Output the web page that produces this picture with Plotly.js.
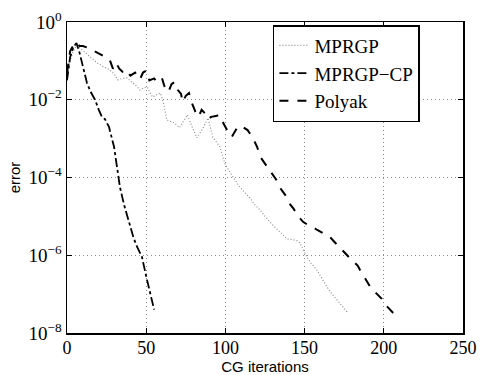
<!DOCTYPE html>
<html>
<head>
<meta charset="utf-8">
<script src="https://cdn.plot.ly/plotly-3.0.1.min.js"></script>
<style>html,body{margin:0;padding:0;background:#fff;}#chart{width:480px;height:375px;}</style>
</head>
<body>
<div id="chart"></div>
<script>
// MPRGP (dotted grey)
var mprgpX = [0,2,3.5,6,9,12,15,19,23,27,30,32,35,38,41,44,46,48,50.5,52,54,56,59,61,63,65,68,71,73,76,78,80,82,84,86,89,91,92,96.5,99.7,102.8,106,109,112,115.5,118,121.8,125,128,131,134.4,137,139,142.6,145,147,149,151.4,154,157.7,161,164,167,170.3,174,177.3];
var mprgpY = [0.0398,0.1,0.158,0.251,0.2,0.158,0.126,0.0891,0.0708,0.0589,0.0447,0.0324,0.0355,0.0363,0.0282,0.0224,0.0178,0.02,0.0214,0.0158,0.0117,0.0132,0.0148,0.0079,3.02e-3,2.82e-3,2.51e-3,1.91e-3,2.51e-3,4.07e-3,2.51e-3,1.58e-3,1.05e-3,1.41e-3,1.91e-3,3.39e-3,1.58e-3,1.1e-3,6.17e-4,2.24e-4,1.38e-4,8.9e-5,5.75e-5,4.17e-5,3.02e-5,2.09e-5,1.48e-5,1e-5,7.24e-6,5.37e-6,3.98e-6,3.16e-6,2.63e-6,2.51e-6,2.4e-6,2.09e-6,1.41e-6,9.1e-7,6.3e-7,4.17e-7,2.51e-7,1.55e-7,1.05e-7,7.1e-8,4.8e-8,3.3e-8];

// MPRGP-CP (dash-dot)
var cpX = [0,2,4,6,8,10.7,12.6,15,17.7,20,22,24,26.5,29.7,31.5,33.4,36,39.1,42,44.2,47.3,50.5,52.5,54.3,55];
var cpY = [0.0316,0.126,0.224,0.288,0.158,0.0589,0.0269,0.0158,0.01,5.6e-3,3.63e-3,3.16e-3,2.0e-3,6.17e-4,2.0e-4,5.75e-5,2.0e-5,6.76e-6,2.82e-6,1.66e-6,9.1e-7,2.34e-7,1e-7,4.7e-8,4.0e-8];

// Polyak (dashed)
var polX = [0,2,4,6,8,10,13,16,19,22,25,27,29,31,33,35,37,40,43,46,48,50,52,55,57,60,62,64,66,68,70,72,73,75,77,79,81,83,85,87,89,91,94,96,98,100,102,104,106,108,111,114,117,120,122,125,129,132,134,137,139,141,143,146,149,152,155,158,161,164,166,168,170,172,174,176,178.5,181,183.6,185,186.8,189.9,192,194.3,196.5,198.7,200.5,202.5,204.5,206.5,208];
var polY = [0.0501,0.178,0.251,0.302,0.240,0.240,0.219,0.191,0.166,0.141,0.120,0.105,0.0631,0.0891,0.0631,0.0525,0.0603,0.0417,0.0501,0.0331,0.0501,0.0562,0.0316,0.0355,0.0282,0.0355,0.0191,0.0158,0.0251,0.0288,0.0178,0.0141,0.0087,0.0126,0.0148,0.0079,5.0e-3,3.63e-3,5.5e-3,4.5e-3,3.16e-3,3.63e-3,3.8e-3,4.07e-3,2.82e-3,2.0e-3,1.41e-3,1.1e-3,1.58e-3,2.09e-3,2.0e-3,1.66e-3,1.1e-3,6.17e-4,3.39e-4,2.24e-4,1.38e-4,8.9e-5,5.75e-5,3.98e-5,3.02e-5,2.0e-5,1.58e-5,1e-5,7.24e-6,6.03e-6,5.37e-6,4.47e-6,3.8e-6,3.16e-6,2.95e-6,2.4e-6,1.95e-6,1.58e-6,1.29e-6,1.05e-6,8.5e-7,6.76e-7,5.37e-7,4.17e-7,3.16e-7,1.82e-7,1.41e-7,1.15e-7,9.3e-8,7.6e-8,5.6e-8,4.5e-8,3.7e-8,3.1e-8,2.8e-8];

var yTickVals = [1, 1e-2, 1e-4, 1e-6, 1e-8];
var yTickText = ['10<sup>0</sup>', '10<sup>−2</sup>', '10<sup>−4</sup>', '10<sup>−6</sup>', '10<sup>−8</sup>'];
var xTickVals = [0, 50, 100, 150, 200, 250];

var traces = [
  {x: mprgpX, y: mprgpY, name: 'MPRGP', mode: 'lines', line: {color: '#8c8c8c', width: 1.2, dash: '1px,2px'}},
  {x: cpX, y: cpY, name: 'MPRGP−CP', mode: 'lines', line: {color: '#000', width: 1.8, dash: 'dashdot'}},
  {x: polX, y: polY, name: 'Polyak', mode: 'lines', line: {color: '#000', width: 2, dash: 'dash'}}
];

var serif = 'Liberation Serif, Times New Roman, serif';
var sans = 'Liberation Sans, Arial, sans-serif';

var layout = {
  width: 480, height: 375,
  margin: {l: 67, r: 17, t: 22, b: 42},
  paper_bgcolor: '#fff', plot_bgcolor: '#fff',
  showlegend: true,
  legend: {
    x: 0.52, y: 0.99, xanchor: 'left', yanchor: 'top',
    bgcolor: '#fff', bordercolor: '#000', borderwidth: 1.5,
    font: {family: serif, size: 19, color: '#000'},
    tracegroupgap: 0
  },
  xaxis: {
    range: [0, 250], tickvals: xTickVals, ticktext: xTickVals.map(String),
    ticks: 'inside', ticklen: 5, tickcolor: '#000', mirror: 'ticks',
    showline: true, linecolor: '#000', linewidth: 1.5,
    showgrid: true, gridcolor: '#8a8a8a', gridwidth: 1, griddash: '1px,3px',
    zeroline: false, ticklabelstandoff: -2,
    tickfont: {family: serif, size: 18, color: '#000'},
    title: {text: 'CG iterations', font: {family: sans, size: 15, color: '#000'}, standoff: 0}
  },
  yaxis: {
    type: 'log', range: [-8, 0], tickvals: yTickVals, ticktext: yTickText,
    ticks: 'inside', ticklen: 5, tickcolor: '#000', mirror: 'ticks',
    showline: true, linecolor: '#000', linewidth: 1.5,
    showgrid: true, gridcolor: '#8a8a8a', gridwidth: 1, griddash: '1px,3px',
    zeroline: false,
    tickfont: {family: serif, size: 19, color: '#000'},
    title: {text: 'error', font: {family: sans, size: 15, color: '#000'}, standoff: 4}
  }
};

Plotly.newPlot('chart', traces, layout, {displayModeBar: false, staticPlot: true});
</script>
</body>
</html>
